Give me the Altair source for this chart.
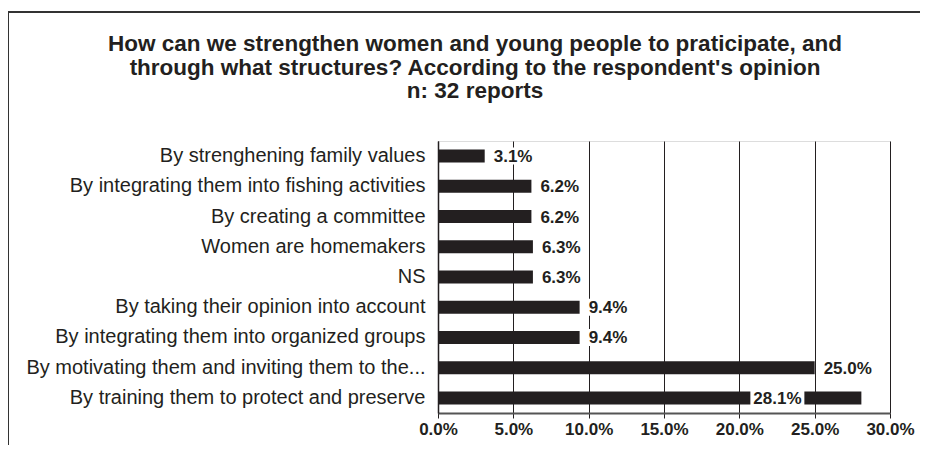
import altair as alt
import pandas as pd

categories = [
    "By strenghening family values",
    "By integrating them into fishing activities",
    "By creating a committee",
    "Women are homemakers",
    "NS",
    "By taking their opinion into account",
    "By integrating them into organized groups",
    "By motivating them and inviting them to the...",
    "By training them to protect and preserve",
]
values = [0.031, 0.062, 0.062, 0.063, 0.063, 0.094, 0.094, 0.250, 0.281]
tick_values = [0.0, 0.05, 0.10, 0.15, 0.20, 0.25, 0.30]
title_lines = [
    "How can we strengthen women and young people to praticipate, and",
    "through what structures? According to the respondent's opinion",
    "n: 32 reports",
]

df = pd.DataFrame({"category": categories, "value": values})
df["label"] = [f"{v * 100:.1f}%" for v in values]

DARK = "#231f20"
FONT = "Liberation Sans"

y_enc = alt.Y(
    "category:N",
    sort=categories,
    scale=alt.Scale(paddingInner=0, paddingOuter=0),
    axis=alt.Axis(
        title=None,
        ticks=False,
        labelFont=FONT,
        labelFontSize=20,
        labelColor=DARK,
        labelPadding=13,
        labelLimit=0,
        domainColor=DARK,
        domainWidth=1.5,
        grid=False,
    ),
)
x_scale = alt.Scale(domain=[0, 0.30], nice=False, zero=True)

base = alt.Chart(df)

bars = base.mark_bar(color=DARK, size=13).encode(
    x=alt.X(
        "value:Q",
        scale=x_scale,
        axis=alt.Axis(
            title=None,
            values=tick_values,
            format=".1%",
            grid=True,
            gridColor=DARK,
            gridWidth=1,
            gridOpacity=1,
            domainColor="#555555",
            domainWidth=2,
            tickColor=DARK,
            tickSize=5,
            labelFont=FONT,
            labelFontSize=17,
            labelFontWeight="bold",
            labelColor=DARK,
            labelPadding=3,
            labelFlush=False,
        ),
    ),
    y=y_enc,
)

outside = base.transform_filter("datum.value < 0.27")
inside = base.transform_filter("datum.value >= 0.27")

box_out = outside.mark_bar(color="white", size=17, xOffset=7, x2Offset=56).encode(
    x=alt.X("value:Q", scale=x_scale), x2="value:Q", y=alt.Y("category:N", sort=categories)
)
text_out = outside.mark_text(
    align="left", baseline="middle", dx=9, dy=1, font=FONT, fontSize=17,
    fontWeight="bold", color=DARK,
).encode(x=alt.X("value:Q", scale=x_scale), y=alt.Y("category:N", sort=categories), text="label:N")

box_in = inside.mark_bar(color="white", size=17, xOffset=-111, x2Offset=-57).encode(
    x=alt.X("value:Q", scale=x_scale), x2="value:Q", y=alt.Y("category:N", sort=categories)
)
text_in = inside.mark_text(
    align="left", baseline="middle", dx=-108, dy=1, font=FONT, fontSize=17,
    fontWeight="bold", color=DARK,
).encode(x=alt.X("value:Q", scale=x_scale), y=alt.Y("category:N", sort=categories), text="label:N")

title_layers = []
for i, line in enumerate(title_lines):
    title_layers.append(
        alt.Chart(pd.DataFrame({"t": [line]})).mark_text(
            align="center", baseline="alphabetic", font=FONT, fontSize=22.5,
            fontWeight="bold", color=DARK,
        ).encode(x=alt.value(37), y=alt.value(-90 + 23.5 * i), text="t:N")
    )

frame_top = alt.Chart(df).mark_rule(color="#333333", strokeWidth=2).encode(
    x=alt.value(-430), x2=alt.value(520), y=alt.value(-129)
)
frame_left = alt.Chart(df).mark_rule(color="#333333", strokeWidth=2).encode(
    x=alt.value(-430), y=alt.value(-129), y2=alt.value(330)
)

chart = (
    alt.layer(bars, box_out, text_out, box_in, text_in, *title_layers, frame_top, frame_left)
    .properties(
        width=452,
        height=272,
        autosize=alt.AutoSizeParams(type="none"),
        padding={"left": 430, "top": 133, "right": 30, "bottom": 32},
    )
    .configure_view(stroke=None)
    .configure(background="white")
)

chart.save("out.html", embed_options={"renderer": "svg", "actions": False})
